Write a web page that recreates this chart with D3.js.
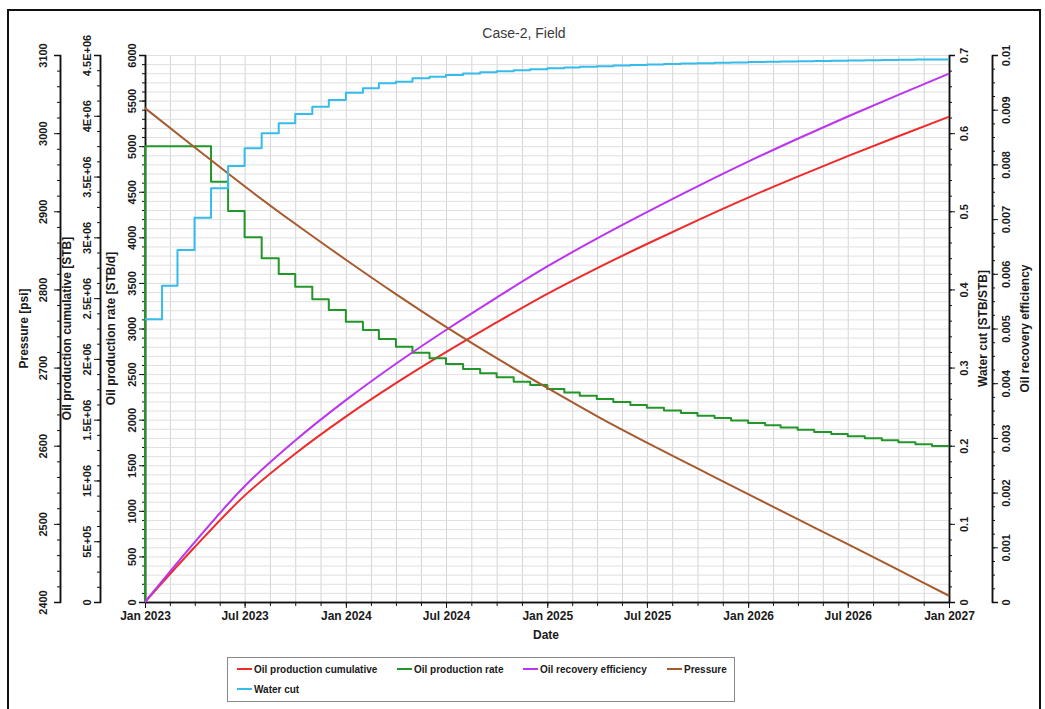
<!DOCTYPE html>
<html>
<head>
<meta charset="utf-8">
<script src="https://cdn.jsdelivr.net/npm/d3@7"></script>
<style>
  body { margin: 0; background: #fff; }
  svg { display: block; }
  text { font-family: "Liberation Sans", Arial, Helvetica, sans-serif; }
</style>
</head>
<body>
<svg id="chart" width="1045" height="709"></svg>
<script>
// ---- Data -------------------------------------------------------------
// Monthly report steps, Jan 2023 .. Dec 2026
const monthStarts = d3.timeMonth.range(new Date(2023, 0, 1), new Date(2027, 0, 1));
const endDate = new Date(2027, 0, 1);

// Oil production rate [STB/d], one value per month
const oilRate = [
  5000, 5000, 5000, 5000, 4610, 4289, 4000, 3770, 3598, 3459, 3320, 3203,
  3075, 2984, 2885, 2800, 2735, 2673, 2611, 2556, 2508, 2464, 2416, 2380,
  2336, 2298, 2262, 2227, 2194, 2162, 2131, 2101, 2072, 2044, 2017, 1990,
  1964, 1939, 1914, 1890, 1866, 1842, 1819, 1796, 1774, 1752, 1731, 1710
];

// Water cut [STB/STB], one value per month
const waterCut = [
  0.3618, 0.4048, 0.4505, 0.4918, 0.5294, 0.5580, 0.5806, 0.5998, 0.6126, 0.6245, 0.6339, 0.6424,
  0.6518, 0.6574, 0.6638, 0.6659, 0.6702, 0.6723, 0.6744, 0.6762, 0.6778, 0.6793, 0.6806, 0.6818,
  0.6830, 0.6840, 0.6849, 0.6857, 0.6865, 0.6872, 0.6879, 0.6885, 0.6891, 0.6896, 0.6901, 0.6905,
  0.6909, 0.6913, 0.6917, 0.6920, 0.6923, 0.6926, 0.6929, 0.6932, 0.6935, 0.6938, 0.6941, 0.6944
];

// Quarterly samples, Jan 2023 .. Jan 2027
const quarterDates = d3.timeMonth.every(3).range(new Date(2023, 0, 1), new Date(2027, 0, 2));

// Oil production cumulative [STB]
const oilCumulative = [
  0, 450000, 875000, 1220000, 1525000, 1800000, 2055000, 2300000, 2535000,
  2745000, 2945000, 3140000, 3327000, 3500000, 3668000, 3832000, 3992000
];

// Oil recovery efficiency [-]
const recoveryEff = [
  0, 0.001089, 0.002117, 0.002952, 0.003690, 0.004355, 0.004972, 0.005565, 0.006134,
  0.006642, 0.007126, 0.007598, 0.008050, 0.008469, 0.008875, 0.009272, 0.009659
];

// Field pressure [psi]
const pressure = [
  3032, 2982, 2932, 2884, 2838, 2794, 2752, 2712, 2674,
  2638, 2604, 2571, 2538, 2506, 2474, 2441, 2408
];

// Axis tick values
const rateTicks = d3.range(0, 6001, 500);
const cumTicks = d3.range(0, 4500001, 500000);
const pressureTicks = d3.range(2400, 3101, 100);
const waterCutTicks = d3.range(0, 8).map(i => i / 10);
const recoveryTicks = d3.range(0, 11).map(i => i / 1000);
const dateTicks = d3.timeMonth.every(6).range(new Date(2023, 0, 1), new Date(2027, 0, 2));

const seriesNames = ["Oil production cumulative", "Oil production rate", "Oil recovery efficiency", "Pressure", "Water cut"];
const seriesColors = ["#ee2b2b", "#23962a", "#bb35ee", "#a75a2e", "#35bcec"];

// ---- Layout -----------------------------------------------------------
const svg = d3.select("#chart");
const plotL = 145, plotR = 949, plotT = 55, plotB = 602;
const axisX = { pressure: 60, cum: 100, rate: 145, wc: 949, rec: 992 };

const x = d3.scaleTime().domain([new Date(2023, 0, 1), endDate]).range([plotL, plotR]);
const yRate = d3.scaleLinear().domain([0, 6000]).range([plotB, plotT]);
const yCum = d3.scaleLinear().domain([0, 4500000]).range([plotB, plotT]);
const yPres = d3.scaleLinear().domain([2400, 3100]).range([plotB, plotT]);
const yWc = d3.scaleLinear().domain([0, 0.7]).range([plotB, plotT]);
const yRec = d3.scaleLinear().domain([0, 0.01]).range([plotB, plotT]);

// Outer frame
svg.append("rect").attr("x", 8).attr("y", 10).attr("width", 1032).attr("height", 720)
  .attr("fill", "none").attr("stroke", "#111").attr("stroke-width", 2);

// Title
svg.append("text").attr("x", 524).attr("y", 38).attr("text-anchor", "middle")
  .attr("font-size", 14).attr("fill", "#3a3a3a").text("Case-2, Field");

// ---- Grid -------------------------------------------------------------
const minorDates = [];
for (let i = 0; i < dateTicks.length - 1; i++) {
  const a = dateTicks[i].getTime(), b = dateTicks[i + 1].getTime();
  for (let k = 0; k < 4; k++) minorDates.push(new Date(a + (b - a) * k / 4));
}
minorDates.push(endDate);

const grid = svg.append("g");
grid.append("g").attr("transform", `translate(0,${plotB})`)
  .call(d3.axisBottom(x).tickValues(minorDates).tickSize(-(plotB - plotT)).tickFormat(""))
  .call(g => g.select(".domain").remove())
  .call(g => g.selectAll("line").attr("stroke", "#d4d4d4").attr("stroke-width", 1));
grid.append("g").attr("transform", `translate(${plotL},0)`)
  .call(d3.axisLeft(yRate).tickValues(d3.range(0, 6001, 100)).tickSize(-(plotR - plotL)).tickFormat(""))
  .call(g => g.select(".domain").remove())
  .call(g => g.selectAll("line").attr("stroke", "#e0e0e0").attr("stroke-width", 1));

// ---- Axes -------------------------------------------------------------
function styleAxis(g) {
  g.select(".domain").attr("stroke", "#111").attr("stroke-width", 1.5);
  g.selectAll(".tick line").attr("stroke", "#111");
}

function verticalAxis(scale, xPos, majors, minorStep, fmt, side, labelX) {
  const mk = side === "left" ? d3.axisLeft : d3.axisRight;
  const [d0, d1] = scale.domain();
  const minors = d3.range(0, Math.round((d1 - d0) / minorStep) + 1).map(i => d0 + i * minorStep);
  svg.append("g").attr("transform", `translate(${xPos},0)`)
    .call(mk(scale).tickValues(minors).tickSize(3).tickSizeOuter(0).tickFormat(""))
    .call(styleAxis);
  const g = svg.append("g").attr("transform", `translate(${xPos},0)`)
    .call(mk(scale).tickValues(majors).tickSize(6).tickSizeOuter(6).tickFormat(fmt))
    .call(styleAxis);
  g.selectAll(".tick text")
    .attr("x", null).attr("dy", null)
    .attr("transform", `translate(${labelX - xPos},0) rotate(-90)`)
    .attr("text-anchor", "middle").attr("dominant-baseline", "central")
    .attr("font-size", 11).attr("font-weight", "bold").attr("fill", "#1a1a1a");
}

function sciFormat(v) {
  if (v === 0) return "0";
  const e = Math.floor(Math.log10(v));
  const m = +(v / Math.pow(10, e)).toFixed(2);
  return `${m}E+${String(e).padStart(2, "0")}`;
}
const plainFormat = v => String(+v.toFixed(4));

verticalAxis(yPres, axisX.pressure, pressureTicks, 20, plainFormat, "left", 43);
verticalAxis(yCum, axisX.cum, cumTicks, 125000, sciFormat, "left", 87);
verticalAxis(yRate, axisX.rate, rateTicks, 100, plainFormat, "left", 132);
verticalAxis(yWc, axisX.wc, waterCutTicks, 0.02, plainFormat, "right", 964);
verticalAxis(yRec, axisX.rec, recoveryTicks, 0.00025, plainFormat, "right", 1006);

// Axis titles
const axisTitles = [
  { text: "Pressure [psi]", x: 24 },
  { text: "Oil production cumulative [STB]", x: 67 },
  { text: "Oil production rate [STB/d]", x: 111 },
  { text: "Water cut [STB/STB]", x: 983 },
  { text: "Oil recovery efficiency", x: 1025 }
];
axisTitles.forEach(t => {
  svg.append("text")
    .attr("transform", `translate(${t.x},${(plotT + plotB) / 2}) rotate(-90)`)
    .attr("text-anchor", "middle").attr("dominant-baseline", "central")
    .attr("font-size", 12).attr("font-weight", "bold").attr("fill", "#1a1a1a")
    .text(t.text);
});

// Date axis
svg.append("g").attr("transform", `translate(0,${plotB})`)
  .call(d3.axisBottom(x).tickValues(minorDates).tickSize(4).tickSizeOuter(0).tickFormat(""))
  .call(styleAxis);
const xAxis = svg.append("g").attr("transform", `translate(0,${plotB})`)
  .call(d3.axisBottom(x).tickValues(dateTicks).tickSize(6).tickSizeOuter(0).tickPadding(3)
    .tickFormat(d3.timeFormat("%b %Y")))
  .call(styleAxis);
xAxis.selectAll(".tick text").attr("font-size", 12).attr("font-weight", "bold").attr("fill", "#1a1a1a");
svg.append("text").attr("x", 546).attr("y", 639).attr("text-anchor", "middle")
  .attr("font-size", 12).attr("font-weight", "bold").attr("fill", "#1a1a1a").text("Date");

// ---- Series -----------------------------------------------------------
svg.append("clipPath").attr("id", "plotClip").append("rect")
  .attr("x", plotL - 2).attr("y", plotT - 2).attr("width", plotR - plotL + 4).attr("height", plotB - plotT + 4);
const plot = svg.append("g").attr("clip-path", "url(#plotClip)");

const quarterRows = quarterDates.map((d, i) => ({ d, cum: oilCumulative[i], rec: recoveryEff[i], p: pressure[i] }));

// Step series: value holds from the month start to the next one
const rateRows = [{ d: monthStarts[0], v: 0 }]
  .concat(monthStarts.map((d, i) => ({ d, v: oilRate[i] })))
  .concat([{ d: endDate, v: oilRate[oilRate.length - 1] }]);
const wcRows = monthStarts.map((d, i) => ({ d, v: waterCut[i] }))
  .concat([{ d: endDate, v: waterCut[waterCut.length - 1] }]);

function drawLine(rows, yScale, key, color, curve) {
  plot.append("path").datum(rows)
    .attr("fill", "none").attr("stroke", color).attr("stroke-width", 2)
    .attr("stroke-linejoin", "round")
    .attr("d", d3.line().x(r => x(r.d)).y(r => yScale(r[key])).curve(curve));
}

drawLine(quarterRows, yCum, "cum", seriesColors[0], d3.curveMonotoneX);
drawLine(rateRows, yRate, "v", seriesColors[1], d3.curveStepAfter);
drawLine(quarterRows, yRec, "rec", seriesColors[2], d3.curveMonotoneX);
drawLine(quarterRows, yPres, "p", seriesColors[3], d3.curveMonotoneX);
drawLine(wcRows, yWc, "v", seriesColors[4], d3.curveStepAfter);

// ---- Legend -----------------------------------------------------------
const legend = svg.append("g");
legend.append("rect").attr("x", 227.5).attr("y", 657.5).attr("width", 507).attr("height", 44)
  .attr("fill", "#fff").attr("stroke", "#8a8a8a").attr("stroke-width", 1);
const legendPos = [[237, 669], [397, 669], [523, 669], [667, 669], [237, 689]];
seriesNames.forEach((name, i) => {
  const [lx, ly] = legendPos[i];
  legend.append("line").attr("x1", lx).attr("x2", lx + 15).attr("y1", ly).attr("y2", ly)
    .attr("stroke", seriesColors[i]).attr("stroke-width", 2);
  legend.append("text").attr("x", lx + 17).attr("y", ly).attr("dominant-baseline", "central")
    .attr("font-size", 10).attr("font-weight", "bold").attr("fill", "#1a1a1a").text(name);
});
</script>
</body>
</html>
